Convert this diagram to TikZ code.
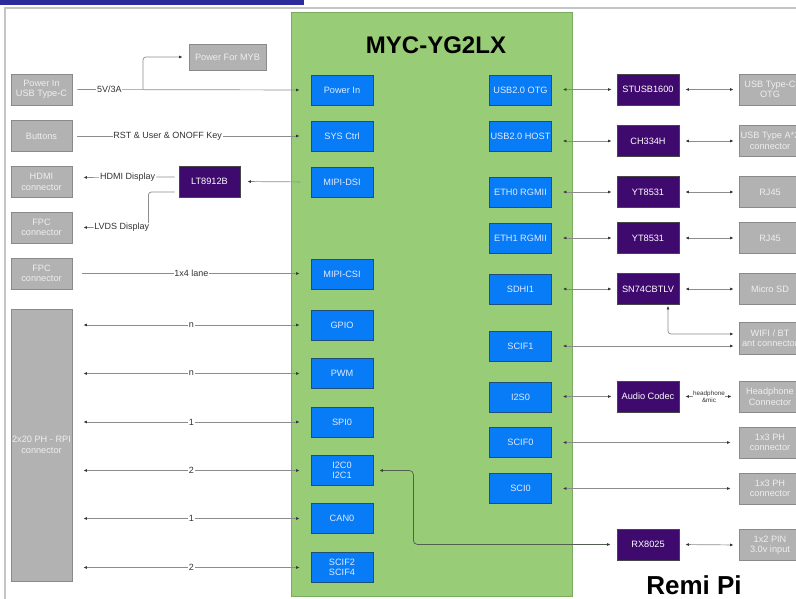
\documentclass[tikz,border=0pt]{standalone}
\usepackage{fontspec}
\setmainfont{Liberation Sans}
\usetikzlibrary{arrows.meta,calc}
\definecolor{blueF}{RGB}{8,124,246}
\definecolor{blueD}{RGB}{31,78,121}
\definecolor{blueT}{RGB}{225,234,255}
\definecolor{greyF}{RGB}{178,178,178}
\definecolor{greyD}{RGB}{138,138,138}
\definecolor{greyT}{RGB}{238,238,238}
\definecolor{purpF}{RGB}{63,10,110}
\definecolor{purpD}{RGB}{70,70,70}
\definecolor{greenF}{RGB}{153,204,119}
\definecolor{greenD}{RGB}{120,170,95}
\definecolor{barC}{RGB}{43,43,153}
\definecolor{frameC}{RGB}{196,196,196}
\definecolor{wireC}{RGB}{140,140,140}
\definecolor{wireD}{RGB}{85,95,80}
\definecolor{tipC}{RGB}{55,55,55}
\definecolor{lblC}{RGB}{50,50,50}
\tikzset{
  basebox/.style={rectangle, inner sep=0pt, align=center, font=\fontsize{9.2}{10.5}\selectfont, line width=0.8pt},
  bluebox/.style={basebox, fill=blueF, draw=blueD, text=blueT, minimum width=62pt, minimum height=30pt},
  greybox/.style={basebox, fill=greyF, draw=greyD, text=greyT, minimum width=61pt, minimum height=31pt},
  purpbox/.style={basebox, fill=purpF, draw=purpD, text=white, minimum width=62pt, minimum height=31pt},
  wireline/.style={draw=wireC, line width=0.7pt},
  sarrow/.style={wireline, -{Latex[length=3.5pt,width=3pt,color=tipC]}},
  darrow/.style={wireline, {Latex[length=3.5pt,width=3pt,color=tipC]}-{Latex[length=3.5pt,width=3pt,color=tipC]}},
  lbl/.style={fill=white, inner sep=0.8pt, font=\fontsize{9}{10}\selectfont, text=lblC},
}
\begin{document}
\begin{tikzpicture}[x=1pt,y=-1pt]
\useasboundingbox (0,0) rectangle (796,599);
\clip (0,0) rectangle (796,599);
% frame and top bar
\fill[barC] (0,0) rectangle (304,5);
\draw[frameC, line width=1.5pt] (5,599) -- (5,8) -- (796,8);
% SoM
\node[draw=greenD, fill=greenF, minimum width=281pt, minimum height=583pt, inner sep=0pt, line width=1pt] (soc) at (431.5,304.5) {};
\node[font=\bfseries\fontsize{24}{28}\selectfont] (title) at (436,45) {MYC-YG2LX};
% left blue
\node[bluebox] (pwr) at (342,90) {Power In};
\node[bluebox] (sys) at (342,136) {SYS Ctrl};
\node[bluebox] (dsi) at (342,182) {MIPI-DSI};
\node[bluebox] (csi) at (342,274) {MIPI-CSI};
\node[bluebox] (gpio) at (342,325) {GPIO};
\node[bluebox] (pwm) at (342,373.5) {PWM};
\node[bluebox] (spi) at (342,422) {SPI0};
\node[bluebox] (i2c) at (342,470.5) {I2C0\\I2C1};
\node[bluebox] (can) at (342,518.5) {CAN0};
\node[bluebox] (scifb) at (342,567.5) {SCIF2\\SCIF4};
% right blue
\node[bluebox] (otg) at (520.5,90) {USB2.0 OTG};
\node[bluebox] (host) at (520.5,136) {USB2.0 HOST};
\node[bluebox] (eth0) at (520.5,192) {ETH0 RGMII};
\node[bluebox] (eth1) at (520.5,238) {ETH1 RGMII};
\node[bluebox] (sdhi) at (520.5,289.5) {SDHI1};
\node[bluebox] (scif1) at (520.5,346) {SCIF1};
\node[bluebox] (i2s) at (520.5,397) {I2S0};
\node[bluebox] (scif0) at (520.5,442.5) {SCIF0};
\node[bluebox] (sci0) at (520.5,488.5) {SCI0};
% left grey
\node[greybox] (pin) at (41.5,89.5) {Power In\\USB Type-C};
\node[greybox] (btn) at (41.5,136) {Buttons};
\node[greybox] (hdmi) at (41.5,182) {HDMI\\connector};
\node[greybox] (fpc1) at (41.5,227.5) {FPC\\connector};
\node[greybox] (fpc2) at (41.5,273.5) {FPC\\connector};
\node[greybox, minimum height=272pt] (rpi) at (41.5,445) {2x20 PH - RPI\\connector};
\node[greybox, minimum width=77pt, minimum height=26pt] (myb) at (227.5,57) {Power For MYB};
\node[purpbox, minimum width=61pt] (lt) at (209.5,181.5) {LT8912B};
% right purple
\node[purpbox] (stusb) at (648,89.5) {STUSB1600};
\node[purpbox] (ch) at (648,141) {CH334H};
\node[purpbox] (yt1) at (648,192) {YT8531};
\node[purpbox] (yt2) at (648,238) {YT8531};
\node[purpbox] (sn) at (648,289) {SN74CBTLV};
\node[purpbox] (codec) at (648,396.5) {Audio Codec};
\node[purpbox] (rx) at (648,544.5) {RX8025};
% right grey
\node[greybox, minimum width=62pt] (tc) at (770,89.5) {USB Type-C\\OTG};
\node[greybox, minimum width=62pt] (ta) at (770,141) {USB Type A*2\\connector};
\node[greybox, minimum width=62pt] (rj1) at (770,192) {RJ45};
\node[greybox, minimum width=62pt] (rj2) at (770,238) {RJ45};
\node[greybox, minimum width=62pt] (sd) at (770,289) {Micro SD};
\node[greybox, minimum width=62pt, minimum height=32pt] (wifi) at (770,338) {WIFI / BT\\ant connector};
\node[greybox, minimum width=62pt] (hp) at (770,396.5) {Headphone\\Connector};
\node[greybox, minimum width=62pt] (ph1) at (770,442.5) {1x3 PH\\connector};
\node[greybox, minimum width=62pt] (ph2) at (770,488.5) {1x3 PH\\connector};
\node[greybox, minimum width=62pt] (pin2) at (770,545) {1x2 PIN\\3.0v input};
\node[font=\bfseries\fontsize{26}{30}\selectfont] (remi) at (694,585) {Remi Pi};
% left connectors
\draw[sarrow, shorten <=5pt, shorten >=11pt] (pin.east) -- node[lbl, pos=0.155]{5V/3A} (pwr.west);
\coordinate (br) at (143,89.75);
\draw[sarrow, rounded corners=3pt, shorten >=6pt] (br) |- (myb.west);
\draw[sarrow, shorten <=5pt, shorten >=11pt] (btn.east) -- node[lbl, pos=0.40]{RST \& User \& ONOFF Key} (sys.west);
\draw[sarrow, shorten <=10pt, shorten >=7pt] (dsi.west) -- (lt.east);
\draw[sarrow, shorten <=4pt, shorten >=11pt] ([yshift=4.5pt]lt.west) -- node[lbl, pos=0.48]{HDMI Display} ([yshift=4.5pt]hdmi.east);
\draw[sarrow, rounded corners=3pt, shorten <=4pt, shorten >=11pt] ([yshift=-10.5pt]lt.west) -| ($(fpc1.east)+(76,0)$) -- node[lbl, pos=0.35]{LVDS Display} (fpc1.east);
\draw[sarrow, shorten <=10pt, shorten >=11pt] (fpc2.east) -- node[lbl]{1x4 lane} (csi.west |- fpc2.east);
\draw[darrow, shorten <=11pt, shorten >=11pt] (rpi.east |- gpio.west) -- node[lbl]{n} (gpio.west);
\draw[darrow, shorten <=11pt, shorten >=11pt] (rpi.east |- pwm.west) -- node[lbl]{n} (pwm.west);
\draw[darrow, shorten <=11pt, shorten >=11pt] (rpi.east |- spi.west) -- node[lbl]{1} (spi.west);
\draw[darrow, shorten <=11pt, shorten >=11pt] (rpi.east |- i2c.west) -- node[lbl]{2} (i2c.west);
\draw[darrow, shorten <=11pt, shorten >=11pt] (rpi.east |- can.west) -- node[lbl]{1} (can.west);
\draw[darrow, shorten <=11pt, shorten >=11pt] (rpi.east |- scifb.west) -- node[lbl]{2} (scifb.west);
% I2C to RTC
\draw[darrow, draw=wireD, rounded corners=4pt, shorten <=6pt, shorten >=6pt] (i2c.east) -- ($(i2c.east)+(40,0)$) |- (rx.west);
% right connectors
\draw[darrow, shorten <=11pt, shorten >=5pt] (otg.east |- stusb.west) -- (stusb.west);
\draw[darrow, shorten <=11pt, shorten >=5pt] (host.east |- ch.west) -- (ch.west);
\draw[darrow, shorten <=11pt, shorten >=5pt] (eth0.east |- yt1.west) -- (yt1.west);
\draw[darrow, shorten <=11pt, shorten >=5pt] (eth1.east |- yt2.west) -- (yt2.west);
\draw[darrow, shorten <=11pt, shorten >=5pt] (sdhi.east |- sn.west) -- (sn.west);
\draw[darrow, shorten <=11pt, shorten >=5pt] (i2s.east |- codec.west) -- (codec.west);
\draw[darrow, shorten <=6pt, shorten >=5pt] (stusb.east) -- (tc.west);
\draw[darrow, shorten <=6pt, shorten >=5pt] (ch.east) -- (ta.west);
\draw[darrow, shorten <=6pt, shorten >=5pt] (yt1.east) -- (rj1.west);
\draw[darrow, shorten <=6pt, shorten >=5pt] (yt2.east) -- (rj2.west);
\draw[darrow, shorten <=6pt, shorten >=5pt] (sn.east) -- (sd.west);
\draw[darrow, rounded corners=3pt, shorten <=1pt, shorten >=5pt] ([xshift=20pt]sn.south) |- ([yshift=4pt]wifi.west);
\draw[darrow, shorten <=11pt, shorten >=5pt] (scif1.east) -- (wifi.west |- scif1.east);
\draw[darrow, shorten <=6pt, shorten >=7pt] (codec.east) -- node[lbl, font=\fontsize{6.3}{6.8}\selectfont, align=center, inner sep=0.3pt]{headphone\\\&mic} (hp.west);
\draw[darrow, shorten <=11pt, shorten >=8pt] (scif0.east |- ph1.west) -- (ph1.west);
\draw[darrow, shorten <=11pt, shorten >=8pt] (sci0.east |- ph2.west) -- (ph2.west);
\draw[darrow, shorten <=6pt, shorten >=5pt] (rx.east) -- (pin2.west);
\end{tikzpicture}
\end{document}
